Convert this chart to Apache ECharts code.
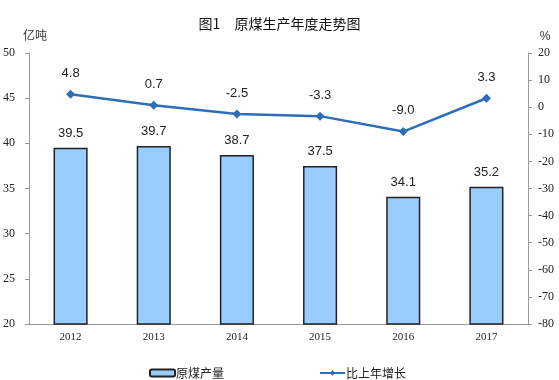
<!DOCTYPE html>
<html><head><meta charset="utf-8">
<script src="https://cdn.jsdelivr.net/npm/echarts@6/dist/echarts.min.js"></script>
<style>html,body{margin:0;padding:0;background:#fff}#c{width:559px;height:380px}</style>
</head><body><div id="c"></div>
<script>
const categories = ['2012','2013','2014','2015','2016','2017'];
const output = [39.5, 39.7, 38.7, 37.5, 34.1, 35.2];
const growth = [4.8, 0.7, -2.5, -3.3, -9.0, 3.3];
const leftTicks = {min: 20, max: 50, interval: 5};
const rightTicks = {min: -80, max: 20, interval: 10};

const serif = '"Liberation Serif","DejaVu Serif",serif';
const sans = '"Liberation Sans",Arial,sans-serif';
const cjk = '"Noto Sans CJK SC",sans-serif';
const chart = echarts.init(document.getElementById('c'));
chart.setOption({
  animation: false,
  title: {text: '图1　原煤生产年度走势图', left: 'center', top: 12,
    textStyle: {fontFamily: cjk, fontSize: 14, fontWeight: 'normal', color: '#111'}},
  legend: {
    left: 144, top: 362, itemWidth: 25, itemHeight: 7, itemGap: 95,
    textStyle: {fontFamily: cjk, fontSize: 12, color: '#222', padding: [0,0,0,-4]},
    data: ['原煤产量', '比上年增长']
  },
  grid: {left: 29, right: 31, top: 53, bottom: 56},
  xAxis: {
    type: 'category', data: categories,
    axisLine: {onZero: false, lineStyle: {color: '#999'}},
    axisTick: {inside: true, length: 3, lineStyle: {color: '#999'}},
    axisLabel: {fontFamily: serif, fontSize: 11, color: '#222', margin: 8}
  },
  yAxis: [{
    type: 'value', min: leftTicks.min, max: leftTicks.max, interval: leftTicks.interval,
    name: '亿吨', nameGap: 12, nameTextStyle: {fontFamily: cjk, fontSize: 12, color: '#333', align: 'center', padding: [0, 0, 0, 12]},
    axisLine: {show: true, lineStyle: {color: '#999'}},
    axisTick: {show: true, length: 4, lineStyle: {color: '#999'}},
    splitLine: {show: false},
    axisLabel: {fontFamily: serif, fontSize: 12, color: '#222', margin: 14}
  }, {
    type: 'value', min: rightTicks.min, max: rightTicks.max, interval: rightTicks.interval,
    name: '%', nameGap: 10, nameTextStyle: {fontFamily: sans, fontSize: 12, color: '#333', padding: [0, 0, 0, 34]},
    axisLine: {show: true, lineStyle: {color: '#999'}},
    axisTick: {show: true, length: 4, lineStyle: {color: '#999'}},
    splitLine: {show: false},
    axisLabel: {fontFamily: serif, fontSize: 12, color: '#222', margin: 10}
  }],
  series: [{
    name: '原煤产量', type: 'bar', data: output, barWidth: '41%',
    itemStyle: {color: '#99CCFF', borderColor: '#222', borderWidth: 1.5},
    label: {show: true, position: 'top', distance: 8, fontFamily: sans, fontSize: 13, color: '#222'}
  }, {
    name: '比上年增长', type: 'line', yAxisIndex: 1, data: growth,
    symbol: 'diamond', symbolSize: 9,
    lineStyle: {color: '#2E6DB8', width: 2.5},
    itemStyle: {color: '#2E6DB8'},
    label: {show: true, position: 'top', distance: 10, fontFamily: sans, fontSize: 13, color: '#222',
      formatter: p => p.value.toFixed(1)}
  }]
});
</script></body></html>
